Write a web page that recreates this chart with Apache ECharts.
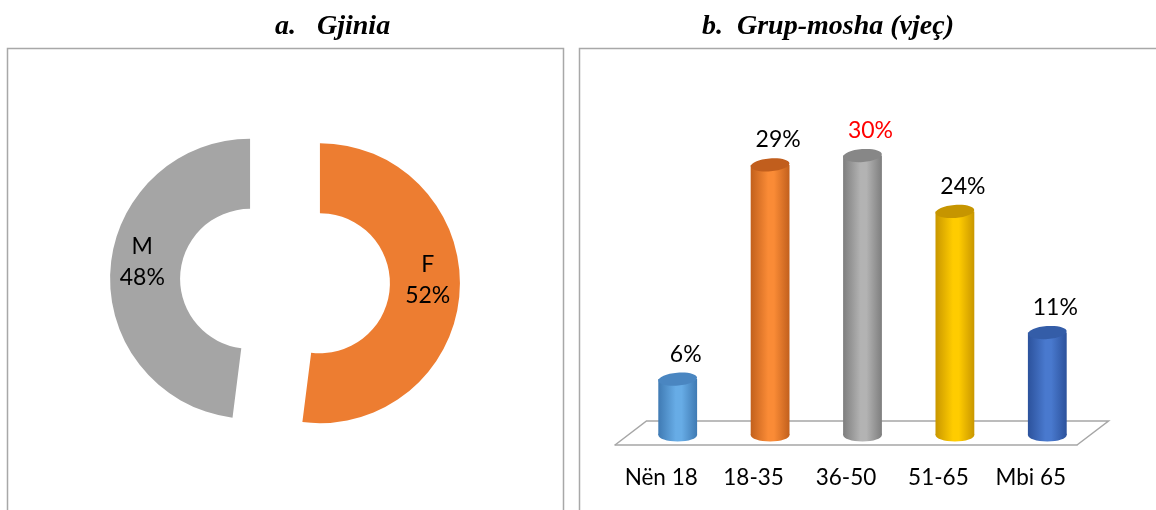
<!DOCTYPE html>
<html lang="sq">
<head>
  <meta charset="UTF-8">
  <title>Gjinia dhe grup-mosha</title>
  <script src="https://cdn.jsdelivr.net/npm/echarts@6/dist/echarts.min.js"></script>
  <style>
    html, body { margin: 0; padding: 0; background: #fff; }
    #chart { width: 1156px; height: 510px; }
  </style>
</head>
<body>
  <div id="chart"></div>
  <script>
    // a. Gjinia
    var genderNames = ['F', 'M'];
    var genderValues = [52, 48];

    // b. Grup-mosha (vjeç)
    var ageGroups = ['Nën 18', '18-35', '36-50', '51-65', 'Mbi 65'];
    var ageValues = [6, 29, 30, 24, 11];

    var genderColors = ['#ED7D31', '#A5A5A5'];
    // cylinder shades: edge, middle, top
    var cylColors = [
      ['#3F7AB3', '#67ACE6', '#4A86C1'],
      ['#C2601C', '#FA8B36', '#C15E1D'],
      ['#7E7E7E', '#B3B3B3', '#878787'],
      ['#C99700', '#FFCC00', '#C69500'],
      ['#2C529C', '#4979CE', '#345DA8']
    ];
    var labelColors = ['#000', '#000', '#FF0000', '#000', '#000'];

    var depthX = 16.5, depthY = -10;
    var floorX = 31.5, floorY = -24;
    var lblFont = '23px Lato';

    var chart = echarts.init(document.getElementById('chart'));

    var pieData = genderNames.map(function (n, i) {
      return { name: n, value: genderValues[i], selected: true, itemStyle: { color: genderColors[i] } };
    });

    var barData = ageValues.map(function (v, i) { return [i, v]; });

    function renderCylinder(params, api) {
      var idx = api.value(0);
      var v = api.value(1);
      var base = api.coord([idx, 0]);
      var top = api.coord([idx, v]);
      var band = api.size([1, 0])[0];
      var w = band * 0.42;
      var cx = base[0] + depthX;
      var by = base[1] + depthY;
      var ty = top[1] + depthY;
      var ry = 6.5;
      var c = cylColors[idx];
      var grad = new echarts.graphic.LinearGradient(0, 0, 1, 0, [
        { offset: 0, color: c[0] },
        { offset: 0.45, color: c[1] },
        { offset: 0.6, color: c[1] },
        { offset: 1, color: c[0] }
      ]);
      var children = [];
      if (params.dataIndex === 0) {
        // floor plane behind the cylinders
        var L = base[0] - band / 2;
        var R = L + band * ageGroups.length;
        children.push({
          type: 'polyline',
          shape: { points: [[L, base[1]], [L + floorX, base[1] + floorY], [R + floorX, base[1] + floorY], [R, base[1]]] },
          style: { stroke: '#A6A6A6', lineWidth: 1.5, fill: null }
        });
      }
      children.push({
        type: 'ellipse',
        shape: { cx: cx, cy: by, rx: w / 2, ry: ry },
        style: { fill: grad }
      });
      children.push({
        type: 'rect',
        shape: { x: cx - w / 2, y: ty, width: w, height: by - ty },
        style: { fill: grad }
      });
      children.push({
        type: 'ellipse',
        x: cx, y: ty, rotation: 0.08,
        shape: { cx: 0, cy: 0, rx: w / 2, ry: ry },
        style: { fill: c[2] }
      });
      children.push({
        type: 'text',
        x: cx + 8, y: ty - 25,
        style: { text: v + '%', font: lblFont, fill: labelColors[idx], align: 'center', verticalAlign: 'middle' }
      });
      return { type: 'group', children: children };
    }

    var option = {
      animation: false,
      backgroundColor: '#fff',
      title: [
        {
          text: 'a.   Gjinia', left: 270, top: 8,
          textStyle: { fontFamily: 'Liberation Serif', fontStyle: 'italic', fontWeight: 'bold', fontSize: 28, color: '#000' }
        },
        {
          text: 'b.  Grup-mosha (vjeç)', left: 697, top: 8,
          textStyle: { fontFamily: 'Liberation Serif', fontStyle: 'italic', fontWeight: 'bold', fontSize: 28, color: '#000' }
        }
      ],
      graphic: [
        { type: 'rect', shape: { x: 7.5, y: 48.5, width: 556, height: 520 }, style: { fill: null, stroke: '#A8A8A8', lineWidth: 1.5 }, silent: true },
        { type: 'rect', shape: { x: 579.5, y: 48.5, width: 600, height: 520 }, style: { fill: null, stroke: '#A8A8A8', lineWidth: 1.5 }, silent: true }
      ],
      grid: { left: 615, right: 79, top: 119, bottom: 65 },
      xAxis: {
        type: 'category',
        data: ageGroups,
        axisLine: { lineStyle: { color: '#A6A6A6', width: 1.5 } },
        axisTick: { length: 8, lineStyle: { color: '#A6A6A6', width: 1.5 } },
        axisLabel: { interval: 0, margin: 21, fontFamily: 'Lato', fontSize: 22.5, color: '#000' }
      },
      yAxis: { type: 'value', min: 0, max: 35, show: false },
      series: [
        {
          type: 'pie',
          center: [285, 281],
          radius: [70, 140],
          startAngle: 90,
          selectedMode: 'multiple',
          selectedOffset: 35,
          silent: true,
          emphasis: { disabled: true },
          label: {
            show: true, position: 'inside', formatter: '{b}\n{c}%',
            fontFamily: 'Lato', fontSize: 23, lineHeight: 31, color: '#000'
          },
          labelLayout: { dy: -10 },
          labelLine: { show: false },
          data: pieData
        },
        {
          type: 'custom',
          renderItem: renderCylinder,
          silent: true,
          data: barData
        }
      ]
    };

    chart.setOption(option);
  </script>
</body>
</html>
